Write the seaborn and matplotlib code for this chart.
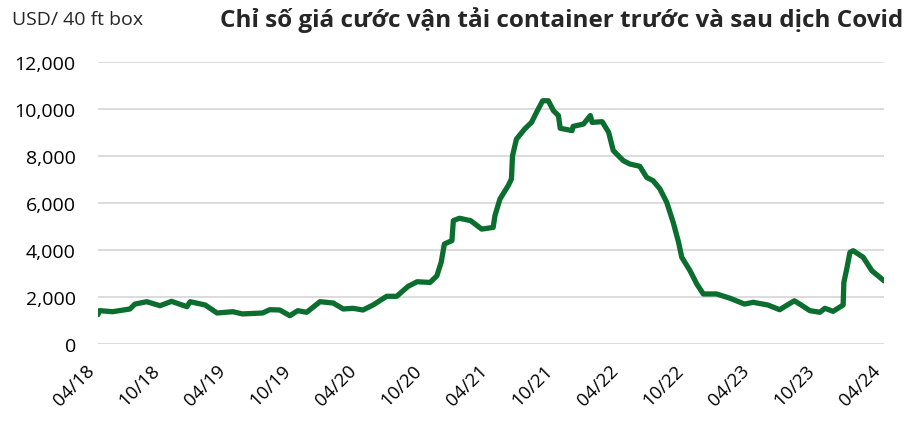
import pandas as pd
import matplotlib.pyplot as plt
import matplotlib.dates as mdates
from matplotlib.ticker import FuncFormatter
import seaborn as sns

# gia cuoc container, USD / 40ft box (doc tu hinh)
dates = [
    "2018-04-01", "2018-04-05", "2018-05-12", "2018-06-29", "2018-07-13", "2018-08-15",
    "2018-09-21", "2018-10-23", "2018-12-05", "2018-12-14", "2019-01-25", "2019-02-27",
    "2019-04-12", "2019-05-09", "2019-07-04", "2019-07-24", "2019-08-21", "2019-09-18",
    "2019-10-10", "2019-11-04", "2019-12-11", "2020-01-17", "2020-02-14", "2020-03-12",
    "2020-04-09", "2020-05-07", "2020-06-14", "2020-07-12", "2020-08-13", "2020-09-07",
    "2020-10-13", "2020-11-01", "2020-11-13", "2020-11-22", "2020-12-13", "2020-12-17",
    "2021-01-03", "2021-02-03", "2021-03-06", "2021-04-07", "2021-04-12", "2021-04-26",
    "2021-05-19", "2021-05-28", "2021-05-31", "2021-06-11", "2021-07-04", "2021-07-23",
    "2021-08-06", "2021-08-23", "2021-09-08", "2021-09-22", "2021-10-06", "2021-10-11",
    "2021-11-13", "2021-11-16", "2021-12-15", "2022-01-03", "2022-01-08", "2022-02-05",
    "2022-02-23", "2022-03-08", "2022-04-05", "2022-04-23", "2022-05-21", "2022-06-09",
    "2022-06-27", "2022-07-16", "2022-08-04", "2022-08-22", "2022-09-06", "2022-09-15",
    "2022-10-08", "2022-10-27", "2022-11-14", "2022-12-21", "2023-01-28", "2023-03-09",
    "2023-04-02", "2023-05-13", "2023-06-15", "2023-07-03", "2023-07-26", "2023-08-14",
    "2023-09-07", "2023-10-05", "2023-10-19", "2023-11-11", "2023-12-09", "2023-12-11",
    "2023-12-19", "2023-12-28", "2024-01-06", "2024-02-03", "2024-02-27", "2024-04-01",
]
gia = [
    1250, 1420, 1375, 1490, 1700, 1800,
    1630, 1815, 1590, 1800, 1660, 1320,
    1375, 1280, 1320, 1460, 1447, 1205,
    1418, 1350, 1800, 1745, 1490, 1520,
    1447, 1660, 2030, 2030, 2455, 2650,
    2620, 2900, 3475, 4255, 4400, 5250,
    5350, 5250, 4890, 4960, 5460, 6170,
    6740, 7020, 8010, 8720, 9150, 9430,
    9860, 10350, 10350, 9930, 9720, 9180,
    9080, 9260, 9360, 9720, 9430, 9460,
    9010, 8230, 7800, 7660, 7560, 7090,
    6950, 6600, 6030, 5180, 4330, 3690,
    3120, 2550, 2130, 2130, 1945, 1700,
    1775, 1660, 1460, 1630, 1840, 1660,
    1420, 1350, 1520, 1390, 1660, 2620,
    3190, 3900, 3970, 3690, 3120, 2690,
]

df = pd.DataFrame({"ngay": pd.to_datetime(dates), "gia": gia})

sns.set_theme(style="white")
plt.rcParams["font.family"] = ["Open Sans", "DejaVu Sans"]

fig = plt.figure(figsize=(9.14, 4.27), dpi=100)
ax = fig.add_axes([0.1072, 0.192, 0.86, 0.6605])

sns.lineplot(data=df, x="ngay", y="gia", color="#0b6e2e", linewidth=3.8, ax=ax,
             solid_capstyle="round", solid_joinstyle="round")

ax.set_ylim(0, 12000)
ax.set_xlim(pd.Timestamp("2018-04-01"), pd.Timestamp("2024-04-01"))
ax.set_yticks(range(0, 12001, 2000))
ax.yaxis.set_major_formatter(FuncFormatter(lambda v, p: f"{int(v):,}"))
ax.xaxis.set_major_locator(mdates.MonthLocator(bymonth=[4, 10]))
ax.xaxis.set_major_formatter(mdates.DateFormatter("%m/%y"))
ax.grid(axis="y", color="#d9d9d9", linewidth=1.3)
ax.set_axisbelow(True)
for s in ax.spines.values():
    s.set_visible(False)
ax.tick_params(axis="x", length=0, pad=12, labelsize=13.5, colors="#000000")
ax.tick_params(axis="y", length=0, pad=16, labelsize=14, colors="#000000")
plt.setp(ax.get_xticklabels(), rotation=45, ha="right", va="top")
ax.set_xlabel("")
ax.set_ylabel("")

fig.text(0.013, 0.952, "USD/ 40 ft box", fontsize=14, va="center", ha="left")
fig.text(0.988, 0.952, "Chỉ số giá cước vận tải container trước và sau dịch Covid",
         fontsize=17.5, fontweight="bold", va="center", ha="right")

fig.savefig("out.png", dpi=100)
